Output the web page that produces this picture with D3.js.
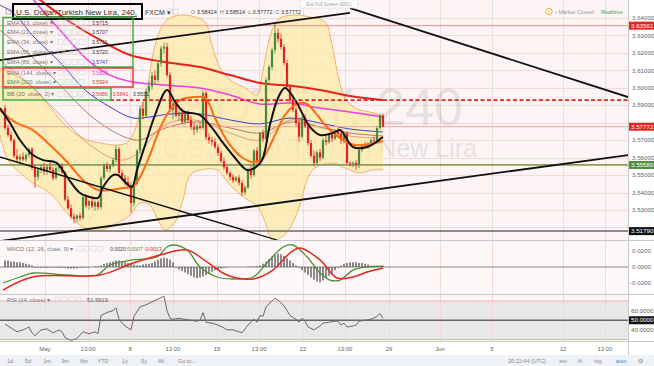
<!DOCTYPE html>
<html>
<head>
<meta charset="utf-8">
<script src="https://cdn.jsdelivr.net/npm/d3@7/dist/d3.min.js"></script>
<style>
html,body{margin:0;padding:0;background:#fff;}
svg{display:block;font-family:"Liberation Sans",Arial,sans-serif;}
</style>
</head>
<body>
<svg id="chart" width="654" height="366"></svg>
<script>
// ================= DATA =================
const candleOpen = [3.5884,3.5770,3.5730,3.5700,3.5610,3.5590,3.5605,3.5590,3.5615,3.5650,
3.5541,3.5490,3.5530,3.5545,3.5520,3.5548,3.5530,3.5483,3.5540,3.5550,
3.5515,3.5360,3.5310,3.5262,3.5250,3.5268,3.5255,3.5374,3.5325,3.5350,
3.5320,3.5345,3.5317,3.5483,3.5555,3.5535,3.5555,3.5586,3.5650,3.5512,
3.5483,3.5460,3.5440,3.5340,3.5450,3.5640,3.5880,3.5840,3.5980,3.6010,
3.6070,3.6045,3.6140,3.6225,3.6235,3.6073,3.5873,3.5910,3.5840,3.5860,
3.5805,3.5850,3.5815,3.5775,3.5760,3.5780,3.5770,3.5970,3.5718,3.5700,
3.5690,3.5660,3.5626,3.5580,3.5545,3.5512,3.5490,3.5470,3.5485,3.5455,
3.5400,3.5430,3.5529,3.5500,3.5640,3.5575,3.5741,3.5710,3.6045,3.6120,
3.6217,3.6314,3.6280,3.6234,3.6142,3.6005,3.5930,3.5875,3.5798,3.5720,
3.5830,3.5780,3.5684,3.5610,3.5570,3.5630,3.5600,3.5700,3.5690,3.5730,
3.5710,3.5750,3.5735,3.5700,3.5740,3.5569,3.5565,3.5570,3.5560,3.5644,
3.5670,3.5665,3.5680,3.5700,3.5695,3.5770,3.58424];
const candleHigh = [3.5900,3.5790,3.5745,3.5710,3.5650,3.5620,3.5630,3.5625,3.5660,3.5660,
3.5560,3.5545,3.5560,3.5570,3.5555,3.5575,3.5545,3.5550,3.5565,3.5570,
3.5525,3.5380,3.5330,3.5280,3.5275,3.5285,3.5385,3.5390,3.5360,3.5370,
3.5355,3.5355,3.5495,3.5570,3.5575,3.5565,3.5600,3.5672,3.5660,3.5530,
3.5500,3.5490,3.5455,3.5460,3.5650,3.5900,3.5920,3.5995,3.6040,3.6090,
3.6100,3.6150,3.6240,3.6260,3.6257,3.6090,3.5930,3.5935,3.5875,3.5880,
3.5860,3.5870,3.5840,3.5800,3.5790,3.5800,3.5985,3.5985,3.5740,3.5720,
3.5710,3.5675,3.5640,3.5600,3.5560,3.5520,3.5505,3.5495,3.5500,3.5470,
3.5440,3.5540,3.5560,3.5650,3.5660,3.5745,3.5760,3.6060,3.6130,3.6230,
3.6377,3.6340,3.6310,3.6250,3.6160,3.6020,3.5960,3.5890,3.5830,3.5840,
3.5850,3.5800,3.5700,3.5640,3.5640,3.5650,3.5715,3.5730,3.5740,3.5745,
3.5760,3.5770,3.5760,3.5745,3.5750,3.5580,3.5580,3.5585,3.5660,3.5680,
3.5690,3.5690,3.5710,3.5720,3.5780,3.5851,3.58514];
const candleLow = [3.5760,3.5720,3.5690,3.5600,3.5570,3.5560,3.5580,3.5575,3.5600,3.5530,
3.5426,3.5470,3.5510,3.5500,3.5500,3.5515,3.5470,3.5475,3.5520,3.5505,
3.5350,3.5300,3.5250,3.5225,3.5230,3.5240,3.5245,3.5310,3.5300,3.5310,
3.5295,3.5300,3.5305,3.5470,3.5520,3.5515,3.5545,3.5570,3.5500,3.5470,
3.5440,3.5420,3.5283,3.5320,3.5440,3.5620,3.5820,3.5830,3.5940,3.5990,
3.6020,3.6030,3.6120,3.6195,3.6060,3.5860,3.5820,3.5830,3.5810,3.5790,
3.5790,3.5800,3.5760,3.5730,3.5740,3.5760,3.5760,3.5700,3.5680,3.5670,
3.5650,3.5610,3.5570,3.5530,3.5500,3.5470,3.5455,3.5460,3.5440,3.5380,
3.5385,3.5420,3.5480,3.5490,3.5560,3.5555,3.5690,3.5700,3.6030,3.6100,
3.6200,3.6260,3.6220,3.6130,3.5990,3.5920,3.5860,3.5780,3.5690,3.5710,
3.5770,3.5670,3.5600,3.5550,3.5560,3.5580,3.5590,3.5670,3.5680,3.5690,
3.5700,3.5720,3.5680,3.5680,3.5560,3.5550,3.5545,3.5530,3.5540,3.5630,
3.5650,3.5650,3.5665,3.5680,3.5690,3.5760,3.57772];
const candleClose = [3.5770,3.5730,3.5700,3.5610,3.5590,3.5605,3.5590,3.5615,3.5650,3.5541,
3.5490,3.5530,3.5545,3.5520,3.5548,3.5530,3.5483,3.5540,3.5550,3.5515,
3.5360,3.5310,3.5262,3.5250,3.5268,3.5255,3.5374,3.5325,3.5350,3.5320,
3.5345,3.5317,3.5483,3.5555,3.5535,3.5555,3.5586,3.5650,3.5512,3.5483,
3.5460,3.5440,3.5340,3.5450,3.5640,3.5880,3.5840,3.5980,3.6010,3.6070,
3.6045,3.6140,3.6225,3.6235,3.6073,3.5873,3.5910,3.5840,3.5860,3.5805,
3.5850,3.5815,3.5775,3.5760,3.5780,3.5770,3.5970,3.5718,3.5700,3.5690,
3.5660,3.5626,3.5580,3.5545,3.5512,3.5490,3.5470,3.5485,3.5455,3.5400,
3.5430,3.5529,3.5500,3.5640,3.5575,3.5741,3.5710,3.6045,3.6120,3.6217,
3.6314,3.6280,3.6234,3.6142,3.6005,3.5930,3.5875,3.5798,3.5720,3.5830,
3.5780,3.5684,3.5610,3.5570,3.5630,3.5600,3.5700,3.5690,3.5730,3.5710,
3.5750,3.5735,3.5700,3.5740,3.5569,3.5565,3.5570,3.5560,3.5644,3.5670,
3.5665,3.5680,3.5700,3.5695,3.5770,3.5842,3.57772];

// moving averages: [bar index, price]
const ema13 = [[-1.7,3.5884],[1.7,3.5798],[5,3.5701],[9.3,3.5615],[12.7,3.5586],[17.3,3.5569],[20.7,3.5489],[25,3.5397],[28.3,3.5374],[31,3.5369],[32.7,3.5432],[36,3.5500],[37.7,3.5500],[40,3.5460],[42.3,3.5432],[44,3.5529],[46.7,3.5672],[50,3.5844],[54,3.5987],[56.7,3.5919],[59.3,3.5867],[65,3.5844],[69,3.5770],[72.7,3.5684],[76.7,3.5598],[80.7,3.5529],[83.3,3.5541],[85.7,3.5586],[88.3,3.5787],[91,3.5942],[93.3,3.5999],[96.7,3.5930],[101.7,3.5775],[105,3.5730],[109.3,3.5741],[111.7,3.5758],[116,3.5661],[120.7,3.5661],[126,3.5718]];
const ema21 = [[-1.7,3.5873],[3.3,3.5804],[9.3,3.5758],[15,3.5672],[20.7,3.5575],[26,3.5472],[31,3.5415],[35,3.5415],[39.3,3.5426],[42.7,3.5437],[45,3.5489],[48.3,3.5615],[51.7,3.5770],[55,3.5873],[58.3,3.5930],[63.3,3.5947],[66.7,3.5942],[70,3.5827],[74.3,3.5689],[79.3,3.5598],[83.3,3.5575],[86,3.5598],[90,3.5730],[93.3,3.5844],[96.7,3.5901],[100,3.5913],[103.3,3.5861],[106.7,3.5787],[111.7,3.5712],[116.7,3.5672],[121.7,3.5678],[126,3.5695]];
const ema34 = [[-1.7,3.6159],[8.3,3.6016],[18.3,3.5844],[28.3,3.5672],[38.3,3.5586],[45,3.5632],[51.7,3.5770],[58.3,3.5816],[65,3.5810],[75,3.5741],[85,3.5701],[95,3.5816],[105,3.5775],[115,3.5724],[126,3.5712]];
const ema55 = [[-1.7,3.6331],[8.3,3.6188],[18.3,3.6016],[28.3,3.5844],[38.3,3.5730],[45,3.5701],[51.7,3.5758],[58.3,3.5793],[65,3.5804],[75,3.5770],[85,3.5741],[95,3.5804],[105,3.5775],[115,3.5741],[126,3.5724]];
const ema89 = [[-1.7,3.6474],[2.7,3.6429],[10,3.6285],[18.3,3.6148],[26.7,3.5987],[35,3.5890],[42.7,3.5827],[48.3,3.5833],[55,3.5850],[65,3.5850],[75,3.5816],[85,3.5793],[95,3.5827],[105,3.5798],[115,3.5764],[126,3.5747]];
const ema144 = [[-1.7,3.6720],[6.7,3.6560],[18.3,3.6331],[28.3,3.6148],[35,3.6073],[42.7,3.6033],[53.3,3.6016],[65,3.5999],[75,3.5959],[85,3.5907],[95,3.5913],[105,3.5884],[115,3.5861],[126,3.5833]];
const ema200 = [[-1.7,3.6750],[5,3.6589],[11.7,3.6503],[21.7,3.6377],[31.7,3.6274],[41.7,3.6188],[53.3,3.6148],[65,3.6119],[75,3.6073],[85,3.6028],[96,3.6010],[105,3.5987],[115,3.5953],[126,3.5930]];
const bbUpper = [[-1.7,3.6114],[3.3,3.6073],[9.3,3.6005],[15,3.5890],[20.7,3.5775],[27.3,3.5701],[31.7,3.5684],[37.3,3.5672],[41,3.5689],[43.3,3.5758],[45,3.5861],[47.3,3.5987],[49.3,3.6188],[51.7,3.6331],[54,3.6389],[58.3,3.6417],[63.3,3.6406],[66.7,3.6377],[69,3.6245],[71.7,3.6114],[75,3.6045],[80,3.5999],[84,3.5959],[85.7,3.6073],[87.3,3.6217],[89.3,3.6343],[91.7,3.6400],[96.7,3.6417],[101.7,3.6406],[106.7,3.6377],[109,3.6245],[111,3.6073],[113.3,3.5942],[116.7,3.5884],[121.7,3.5861],[126,3.5841]];
const bbLower = [[-1.7,3.5730],[1,3.5586],[4,3.5529],[9.3,3.5455],[15,3.5397],[20.7,3.5283],[26,3.5202],[31.7,3.5185],[37.3,3.5225],[41.7,3.5271],[45,3.5340],[48.3,3.5328],[51,3.5243],[53.3,3.5185],[56.7,3.5231],[59.3,3.5357],[61.7,3.5500],[65,3.5529],[70.7,3.5529],[75,3.5443],[80,3.5369],[84,3.5323],[86.7,3.5231],[89,3.5128],[91.7,3.5139],[95,3.5197],[98.3,3.5328],[100.7,3.5472],[103.3,3.5541],[109.3,3.5569],[113.3,3.5541],[118.3,3.5512],[122.3,3.5529],[126,3.5531]];

// drawn trend lines: [[bar index, price],[bar index, price]]
const trendLines = [
  [[-1.7,3.6159],[115,3.6429]],
  [[115,3.6457],[207.7,3.5947]],
  [[-1.7,3.5122],[207.7,3.5615]],
  [[-1.7,3.5604],[90.7,3.5128]]
];
const levelRedTop = 3.63561, levelDashed = 3.5930, levelLast = 3.57772, levelGreen = 3.55580, levelBlack = 3.51790;
const dashedStartIdx = 35;

// MACD
const macdHist = [0.008,0.008,0.007,0.007,0.006,0.006,0.005,0.004,0.003,0.002,
-0.001,-0.001,-0.001,-0.001,-0.001,-0.0005,-0.0005,-0.0005,-0.001,-0.001,
-0.001,-0.002,-0.002,-0.002,-0.0015,-0.001,-0.001,-0.0005,-0.0005,0,
0.0005,0.001,0.002,0.004,0.005,0.006,0.007,0.008,0.008,0.007,
0.006,0.005,0.004,0.003,0.002,0.002,0.003,0.004,0.004,0.005,
0.007,0.009,0.011,0.012,0.011,0.009,0.006,-0.001,-0.003,-0.005,
-0.007,-0.009,-0.011,-0.013,-0.014,-0.013,-0.012,-0.010,-0.008,-0.006,
-0.004,-0.003,-0.002,-0.001,-0.0005,0,0,0,0,0,
0,0.0005,0.0005,0.0005,0.001,0.002,0.004,0.007,0.010,0.013,
0.015,0.017,0.016,0.014,0.011,0.008,0.005,0.002,-0.001,-0.004,
-0.007,-0.010,-0.013,-0.016,-0.018,-0.019,-0.017,-0.014,-0.011,-0.008,
-0.004,-0.001,0.002,0.004,0.005,0.006,0.006,0.006,0.005,0.005,
0.004,0.003,0.002,0.002,0.002,0.002,0.002];
const macdIdx = [-0.7,5,9.3,20.7,30.7,35,42.7,50.7,54,56,60.7,65,70.7,76,82.7,87.3,92.7,96,100.7,105,108.3,111.7,116,120.7,126];
const macdVal = [-0.020,-0.0125,-0.0075,-0.010,-0.010,0.0025,0.0088,0.0125,0.025,0.0275,0.0213,0,-0.0125,-0.015,-0.0125,0.005,0.025,0.0275,0.0125,-0.0075,-0.0163,-0.0163,-0.0038,0,0.0007];
const signalIdx = [-0.7,9.3,31.7,42.7,51.7,60.7,67.3,74,82.7,89.3,95,98.3,105,110.7,116,120.7,126];
const signalVal = [-0.0288,-0.0125,-0.010,0.005,0.015,0.0213,0.0063,-0.010,-0.015,-0.0038,0.0175,0.0238,0.0088,-0.0138,-0.0125,-0.0063,-0.0013];

// RSI
const rsiIdx = [0,2,4,6,8,9,10,12,14,16,18,19,20,22,24,26,28,30,31,32,34,36,37,38,40,42,43,45,47,49,51,53,54,55,56,58,60,62,64,65,66,67,69,71,73,74,76,78,79,81,83,84,85,86,87,89,90,91,93,94,95,97,98,99,100,101,103,105,106,108,110,111,112,113,114,116,117,118,120,122,124,125,126];
const rsiVal = [46,42,38,40,43,37,34,40,41,37,40,38,32,29,31,38,36,38,36,55,58,60,63,51,44,40,54,64,66,69,72,75,60,52,51,52,51,50,49,50,58,48,47,45,42,40,40,38,37,45,51,48,55,54,64,70,73,71,65,60,55,51,48,52,49,43,40,44,47,48,49,49,45,47,43,44,45,49,50,51,54,57,52];

// axes / labels
const priceTicks = [3.52,3.53,3.54,3.55,3.56,3.57,3.58,3.59,3.60,3.61,3.62,3.63,3.64];
const timeTickIdx = [13.3,27.7,41.7,56,70.7,84.7,99.3,113.3,128,145,162.3,186,200];
const timeTickLabels = ["May","13:00","8","13:00","15","13:00","22","13:00","29","Jun","5","12","13:00"];
const macdTicks = [0.02,0,-0.02];
const rsiTicks = [60,50,40];
const legendNames = ["EMA (13, close)","EMA (21, close)","EMA (34, close)","EMA (55, close)","EMA (89, close)","EMA (144, close)","EMA (200, close)","BB (20, close, 2)"];
const legendValues = [["3.5715"],["3.5707"],["3.5711"],["3.5720"],["3.5747"],["3.5830"],["3.5924"],["3.5686","3.5841","3.5531"]];
const legendValueColors = [["#333"],["#333"],["#333"],["#333"],["#3b3bd1"],["#e040c8"],["#e3342a"],["#e3342a","#e3342a","#333"]];
const toolbarLeft = ["1d","5d","1m","3m","6m","YTD","1y","5y","All","Go to..."];
const toolbarRight = ["20:22:44 (UTC)","ext","%","log","auto","⚙"];

// ================= DRAWING =================
const svg = d3.select('#chart');
const PR = 628;
const x = d3.scaleLinear().domain([0,126]).range([5,383]);
const yP = d3.scaleLinear().domain([3.64,3.53]).range([18,210]);
const yM = d3.scaleLinear().domain([-0.02,0.02]).range([283,251]);
const yR = d3.scaleLinear().domain([30,70]).range([339.5,301]);

const defs = svg.append('defs');
defs.append('clipPath').attr('id','cMain').append('rect').attr('x',0).attr('y',0).attr('width',PR).attr('height',240);
defs.append('clipPath').attr('id','cMacd').append('rect').attr('x',0).attr('y',241).attr('width',PR).attr('height',53);
defs.append('clipPath').attr('id','cRsi').append('rect').attr('x',0).attr('y',295).attr('width',PR).attr('height',46);

svg.append('rect').attr('width',654).attr('height',366).attr('fill','#fff');
svg.append('rect').attr('x',0).attr('y',0).attr('width',PR).attr('height',240).attr('fill','#fdf5f5');
svg.append('rect').attr('x',0).attr('y',241).attr('width',PR).attr('height',53).attr('fill','#fdf7f7');
svg.append('rect').attr('x',0).attr('y',295).attr('width',PR).attr('height',46).attr('fill','#fdf7f7');
svg.append('rect').attr('x',0).attr('y',yR(70)).attr('width',PR).attr('height',yR(30)-yR(70)).attr('fill','#e8e8ea');

// grid
const grid = svg.append('g').attr('stroke','#f3d9d9').attr('stroke-width',1);
timeTickIdx.forEach(t=>{ const xx=Math.round(x(t))+0.5; grid.append('line').attr('x1',xx).attr('x2',xx).attr('y1',0).attr('y2',341); });
priceTicks.forEach(p=>{ const yy=Math.round(yP(p))+0.5; grid.append('line').attr('x1',0).attr('x2',PR).attr('y1',yy).attr('y2',yy); });

// watermark
svg.append('text').attr('x',463).attr('y',125).attr('text-anchor','end').attr('font-size',52).attr('fill','#000').attr('opacity',0.08).text('USDTRY, 240');
svg.append('text').attr('x',477).attr('y',157).attr('text-anchor','end').attr('font-size',25).attr('fill','#000').attr('opacity',0.08).text('U.S. Dollar/Turkish New Lira');

const main = svg.append('g').attr('clip-path','url(#cMain)');
const cr = d3.curveCatmullRom.alpha(0.5);
const lineP = d3.line().x(d=>x(d[0])).y(d=>yP(d[1])).curve(cr);

// Bollinger band fill
const upPath = lineP(bbUpper);
const loPath = lineP(bbLower.slice().reverse());
main.append('path').attr('d', upPath + 'L' + loPath.slice(1) + 'Z').attr('fill','#fbe9a6').attr('fill-opacity',0.75);
main.append('path').attr('d',upPath).attr('fill','none').attr('stroke','#f0a050').attr('stroke-width',0.8);
main.append('path').attr('d',lineP(bbLower)).attr('fill','none').attr('stroke','#f0a050').attr('stroke-width',0.8);

// slow MAs
[[ema55,'#a35a52',0.8],[ema34,'#d98870',0.8],[ema89,'#3b3bd1',1],[ema144,'#f03ce0',1.5],[ema200,'#e8221b',2]].forEach(([pts,c,w])=>{
  main.append('path').attr('d',lineP(pts)).attr('fill','none').attr('stroke',c).attr('stroke-width',w);
});

// horizontal levels
const hl = (p,c,w,dash,x0)=>main.append('line').attr('x1',x0===undefined?0:x0).attr('x2',PR).attr('y1',yP(p)).attr('y2',yP(p)).attr('stroke',c).attr('stroke-width',w).attr('stroke-dasharray',dash||null);
hl(levelRedTop,'#ef8d8d',1);
hl(levelLast,'#f2a3a3',1);
hl(levelGreen,'#8c9c5c',1.8);
hl(levelBlack,'#666',1.5);

// candles
const idx = d3.range(candleClose.length);
const cg = main.append('g');
idx.forEach(i=>{
  const up = candleClose[i] >= candleOpen[i];
  const col = up ? '#4c8a3a' : '#e3241c';
  const xx = x(i);
  cg.append('line').attr('x1',xx).attr('x2',xx).attr('y1',yP(candleHigh[i])).attr('y2',yP(candleLow[i])).attr('stroke',col).attr('stroke-width',0.8);
  const y0 = yP(Math.max(candleOpen[i],candleClose[i])), y1 = yP(Math.min(candleOpen[i],candleClose[i]));
  cg.append('rect').attr('x',xx-1.1).attr('width',2.2).attr('y',y0).attr('height',Math.max(0.8,y1-y0)).attr('fill',col);
});

// fast MAs
main.append('path').attr('d',lineP(ema21)).attr('fill','none').attr('stroke','#ff6a13').attr('stroke-width',2);
main.append('path').attr('d',lineP(ema13)).attr('fill','none').attr('stroke','#111').attr('stroke-width',2);

hl(levelDashed,'#e3241c',1.8,'4,2.5',x(dashedStartIdx));

// trend lines
trendLines.forEach((l,k)=>{
  main.append('line').attr('x1',x(l[0][0])).attr('y1',yP(l[0][1])).attr('x2',x(l[1][0])).attr('y2',yP(l[1][1]))
    .attr('stroke','#111').attr('stroke-width',k===3?1.3:1.8);
});

// MACD pane
const mg = svg.append('g').attr('clip-path','url(#cMacd)');
mg.append('line').attr('x1',0).attr('x2',PR).attr('y1',yM(0)).attr('y2',yM(0)).attr('stroke','#8a8a8a').attr('stroke-width',1);
idx.forEach(i=>{
  mg.append('line').attr('x1',x(i)).attr('x2',x(i)).attr('y1',yM(0)).attr('y2',yM(macdHist[i])).attr('stroke','#333').attr('stroke-width',1.1);
});
const lineM = d3.line().x(d=>x(d[0])).y(d=>yM(d[1])).curve(cr);
mg.append('path').attr('d',lineM(macdIdx.map((t,k)=>[t,macdVal[k]]))).attr('fill','none').attr('stroke','#4f8f3a').attr('stroke-width',1.3);
mg.append('path').attr('d',lineM(signalIdx.map((t,k)=>[t,signalVal[k]]))).attr('fill','none').attr('stroke','#e8261e').attr('stroke-width',1.5);

// RSI pane
const rg = svg.append('g').attr('clip-path','url(#cRsi)');
rg.append('line').attr('x1',0).attr('x2',PR).attr('y1',yR(70)).attr('y2',yR(70)).attr('stroke','#f0b0b0').attr('stroke-width',1);
rg.append('line').attr('x1',0).attr('x2',PR).attr('y1',yR(30)).attr('y2',yR(30)).attr('stroke','#b9c9a8').attr('stroke-width',1);
rg.append('line').attr('x1',0).attr('x2',PR).attr('y1',yR(50)).attr('y2',yR(50)).attr('stroke','#666').attr('stroke-width',1.5);
const lineR = d3.line().x(d=>x(d[0])).y(d=>yR(d[1]));
rg.append('path').attr('d',lineR(rsiIdx.map((t,k)=>[t,rsiVal[k]]))).attr('fill','none').attr('stroke','#6a6a6a').attr('stroke-width',1);

// separators
const sep = svg.append('g').attr('stroke','#c8c8c8').attr('stroke-width',1);
[240.5,294.5,341.5].forEach(yy=>sep.append('line').attr('x1',0).attr('x2',654).attr('y1',yy).attr('y2',yy));
sep.append('line').attr('x1',PR+0.5).attr('x2',PR+0.5).attr('y1',0).attr('y2',355);

// price axis labels (ticks hidden under a price box are not drawn)
const boxPrices = [levelRedTop,levelLast,levelGreen,levelBlack];
const ax = svg.append('g').attr('font-size',6.2).attr('fill','#666');
priceTicks.filter(p=>boxPrices.every(b=>Math.abs(yP(p)-yP(b))>6)).forEach(p=>ax.append('text').attr('x',632).attr('y',yP(p)+2.2).text(p.toFixed(5)));
const box = (yy,txt,bg)=>{
  svg.append('rect').attr('x',629).attr('y',yy-4).attr('width',25).attr('height',8).attr('fill',bg);
  svg.append('text').attr('x',631).attr('y',yy+2.2).attr('font-size',6.2).attr('fill','#fff').text(txt);
};
box(yP(levelRedTop),'3.63561','#e8221b');
box(yP(levelLast),'3.57772','#e8221b');
box(yP(levelGreen),'3.55580','#4f8f3a');
box(yP(levelBlack),'3.51790','#111');
macdTicks.forEach(v=>ax.append('text').attr('x',v<0?630:632).attr('y',yM(v)+2.2).text(v.toFixed(4)));
rsiTicks.forEach(v=>{
  if(v===50){ box(yR(50),'50.0000','#111'); }
  else ax.append('text').attr('x',631).attr('y',yR(v)+2.2).text(v.toFixed(4));
});

// time axis
const tx = svg.append('g').attr('font-size',6).attr('fill','#666').attr('text-anchor','middle');
timeTickIdx.forEach((t,k)=>tx.append('text').attr('x',x(t)).attr('y',351).text(timeTickLabels[k]));

// toolbar
svg.append('rect').attr('x',0).attr('y',355).attr('width',654).attr('height',11).attr('fill','#eef1f5');
const tb = svg.append('g').attr('font-size',5.5).attr('fill','#888').attr('text-anchor','middle');
const tlx = [10,28,47,65,84,103,125,144,161,187];
toolbarLeft.forEach((s,k)=>tb.append('text').attr('x',tlx[k]).attr('y',363).text(s));
const trx = [527,563,580,598,621,640];
toolbarRight.forEach((s,k)=>tb.append('text').attr('x',trx[k]).attr('y',363).attr('fill',s==='auto'?'#3d8fe0':'#888').text(s));

// title & ohlc
svg.append('rect').attr('x',6).attr('y',9).attr('width',5).attr('height',5).attr('fill','none').attr('stroke','#999').attr('stroke-width',0.7);
svg.append('text').attr('x',16).attr('y',15).attr('font-size',7.5).attr('fill','#333').attr('text-decoration','underline').attr('textLength',121).attr('lengthAdjust','spacingAndGlyphs').text('U.S. Dollar/Turkish New Lira, 240,');
svg.append('rect').attr('x',13).attr('y',4).attr('width',129).attr('height',15).attr('fill','none').attr('stroke','#000').attr('stroke-width',2);
svg.append('text').attr('x',145).attr('y',15).attr('font-size',7).attr('fill','#333').text('FXCM ▾');
[167,173].forEach(xx=>svg.append('rect').attr('x',xx).attr('y',9).attr('width',5).attr('height',5).attr('fill','none').attr('stroke','#ccc').attr('stroke-width',0.6));
const ohlc = svg.append('text').attr('x',191).attr('y',14).attr('font-size',5.5).attr('fill','#555');
[['O ','#777'],['3.58424  ','#333'],['H ','#777'],['3.58514  ','#333'],['L ','#777'],['3.57772  ','#333'],['C ','#777'],['3.57772','#333']].forEach(([s,c])=>ohlc.append('tspan').attr('fill',c).attr('xml:space','preserve').text(s));
svg.append('rect').attr('x',300).attr('y',0).attr('width',58).attr('height',8).attr('fill','#fff').attr('stroke','#ddd').attr('stroke-width',0.6);
svg.append('text').attr('x',329).attr('y',6).attr('font-size',4.5).attr('fill','#999').attr('text-anchor','middle').text('Exit Full Screen (ESC)');
svg.append('circle').attr('cx',549).attr('cy',11.5).attr('r',3.2).attr('fill','#fff').attr('stroke','#f5a623').attr('stroke-width',0.9);
svg.append('text').attr('x',549).attr('y',13.5).attr('font-size',5).attr('fill','#f5a623').attr('text-anchor','middle').text('!');
svg.append('text').attr('x',555).attr('y',14).attr('font-size',5.5).attr('fill','#999').text('• Market Closed');
svg.append('text').attr('x',601).attr('y',14).attr('font-size',5.5).attr('fill','#4a9a4a').text('Realtime');

// legend
const rowY = [22.5,32.3,42.2,52,61.8,72.5,82,94];
legendNames.forEach((n,k)=>{
  svg.append('text').attr('x',7).attr('y',rowY[k]+2).attr('font-size',5.8).attr('fill','#777').text(n+' ▾');
  [58,65,72,79].forEach(xx=>svg.append('rect').attr('x',xx).attr('y',rowY[k]-2.5).attr('width',5).attr('height',5).attr('fill','none').attr('stroke','#d4d4d4').attr('stroke-width',0.6));
  legendValues[k].forEach((v,j)=>svg.append('text').attr('x',92+j*20.5).attr('y',rowY[k]+2).attr('font-size',5.2).attr('fill',legendValueColors[k][j]).text(v));
});
svg.append('rect').attr('x',3).attr('y',17.5).attr('width',130).attr('height',49.5).attr('fill','none').attr('stroke','#3cb043').attr('stroke-width',1.5);
svg.append('rect').attr('x',3).attr('y',68).attr('width',130).attr('height',19).attr('fill','none').attr('stroke','#e53935').attr('stroke-width',1.5);
svg.append('rect').attr('x',3).attr('y',88).attr('width',108).attr('height',12).attr('fill','none').attr('stroke','#3cb043').attr('stroke-width',1.5);

// MACD / RSI legends
svg.append('text').attr('x',7).attr('y',251).attr('font-size',5.8).attr('fill','#777').text('MACD (12, 26, close, 9) ▾');
[77,84,91,98].forEach(xx=>svg.append('rect').attr('x',xx).attr('y',246).attr('width',5).attr('height',5).attr('fill','none').attr('stroke','#d4d4d4').attr('stroke-width',0.6));
[['0.0020','#444',110],['0.0007','#4f8f3a',127],['-0.0013','#e8261e',144]].forEach(([s,c,xx])=>svg.append('text').attr('x',xx).attr('y',251).attr('font-size',5.2).attr('fill',c).text(s));
svg.append('text').attr('x',7).attr('y',302).attr('font-size',5.8).attr('fill','#777').text('RSI (14, close) ▾');
[55,62,69,76].forEach(xx=>svg.append('rect').attr('x',xx).attr('y',297).attr('width',5).attr('height',5).attr('fill','none').attr('stroke','#d4d4d4').attr('stroke-width',0.6));
svg.append('text').attr('x',87).attr('y',302).attr('font-size',5.8).attr('fill','#555').text('51.9919');
</script>
</body>
</html>
